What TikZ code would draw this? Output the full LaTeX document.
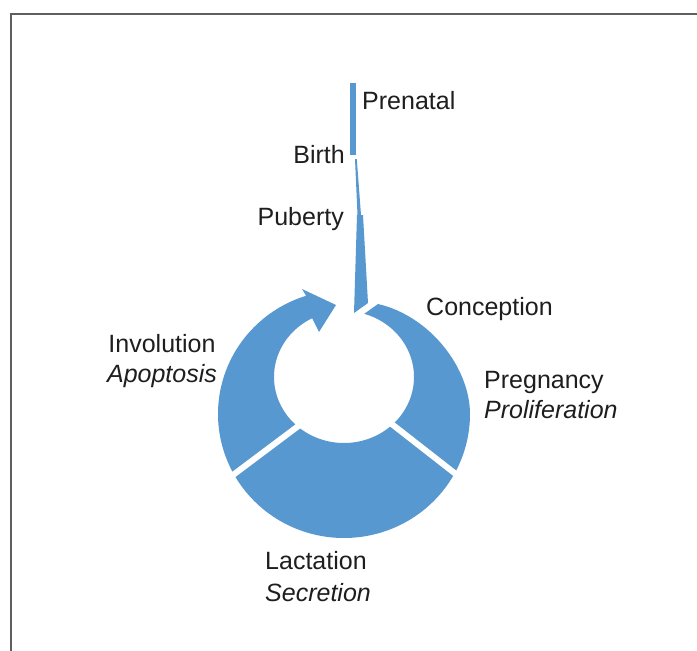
\documentclass[tikz,border=0pt]{standalone}
\usepackage{fontspec}
\setmainfont{Liberation Sans}
\definecolor{ringblue}{RGB}{88,152,208}
\definecolor{framegray}{RGB}{95,95,95}
\definecolor{txt}{RGB}{30,30,30}
\begin{document}
\begin{tikzpicture}[x=1pt,y=-1pt,
  seg/.style={fill=ringblue,draw=none},
  gapline/.style={draw=white,line width=6pt},
  lbl/.style={font=\fontsize{25}{29}\selectfont,inner sep=0pt,text=txt},
  lbltwo/.style={font=\fontsize{25}{30}\selectfont,inner sep=0pt,text=txt,align=#1},
]
\useasboundingbox (0,0) rectangle (697,651);
\fill[white] (0,0) rectangle (697,651);
\draw[framegray,line width=2pt] (11,652) -- (11,14) -- (698,14);

% Lactation segment
\fill[seg] plot[domain=28.7:150.8,samples=80,variable=\t] ({344+126*cos(\t)},{414+124*sin(\t)})
  -- plot[domain=131.5:46,samples=50,variable=\t] ({344+70*cos(\t)},{377+66*sin(\t)}) -- cycle;

% Involution segment (arrow)
\fill[seg] plot[domain=150.8:252.5,samples=80,variable=\t] ({344+126*cos(\t)},{414+124*sin(\t)})
  -- (302,289) -- (336,305) -- (319,332)
  -- plot[domain=243:131.5,samples=60,variable=\t] ({344+70*cos(\t)},{377+66*sin(\t)}) -- cycle;

% Conception / Pregnancy segment
\fill[seg] (364,314) -- (378,304) .. controls (430,316) and (470,368) .. (470,414)
  -- plot[domain=0:28.7,samples=30,variable=\t] ({344+126*cos(\t)},{414+124*sin(\t)})
  -- plot[domain=46:-73.3,samples=60,variable=\t] ({344+70*cos(\t)},{377+66*sin(\t)}) -- cycle;

% stalk
\fill[seg] (350,83) rectangle (356,155);
\fill[seg] (355,159) -- (356.8,159) -- (361,215) -- (357.5,215) -- cycle;
\fill[seg] (357,215) -- (363,215) -- (368,303) -- (354,313) -- cycle;

% gaps
\draw[gapline] (303.4,422.2) -- (226.6,479.8);
\draw[gapline] (386.7,420.1) -- (463.3,479.9);

% labels
\node[lbl,anchor=base west] (prenatal) at (362,109) {Prenatal};
\node[lbl,anchor=base east] (birth) at (345,163) {Birth};
\node[lbl,anchor=base east] (puberty) at (344,225) {Puberty};
\node[lbl,anchor=base west] (conception) at (426,315) {Conception};
\node[lbltwo=center,anchor=base] (involution) at (162,382) {Involution\\\itshape Apoptosis};
\node[lbltwo=left,anchor=base west] (pregnancy) at (484,418) {Pregnancy\\\itshape Proliferation};
\node[lbltwo=left,anchor=base west] (lactation) at (265,601) {Lactation\\[2pt]\itshape Secretion};
\end{tikzpicture}
\end{document}
